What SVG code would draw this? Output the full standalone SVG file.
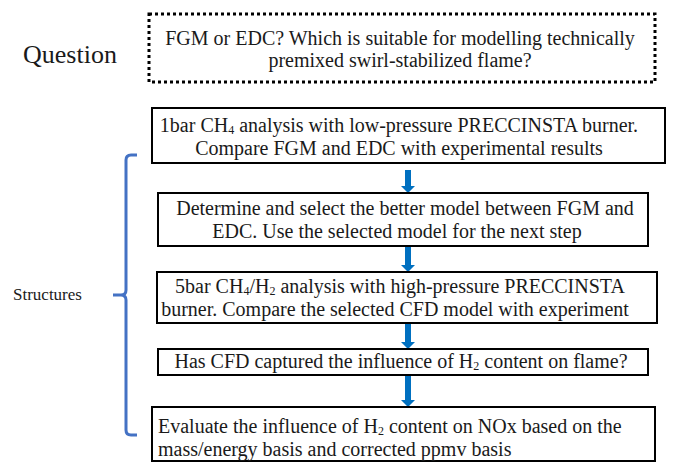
<svg xmlns="http://www.w3.org/2000/svg" width="674" height="463" viewBox="0 0 674 463">
<defs>
<style>
.t{font-family:"Liberation Serif","Times New Roman",serif;font-size:20px;fill:#1a1a1a}
.c{text-anchor:middle}
.s{font-size:12px}
.box{fill:#fff;stroke:#000;stroke-width:2}
.arr{fill:#0070C0}
</style>
</defs>
<rect width="674" height="463" fill="#fff"/>
<g id="question-label"><text class="t" x="23" y="63" style="font-size:26px">Question</text></g>
<g id="question">
<rect x="149" y="14" width="506" height="68" fill="#fff" stroke="#000" stroke-width="3" stroke-dasharray="3,3"/>
<text class="t c" x="400" y="45">FGM or EDC? Which is suitable for modelling technically</text>
<text class="t c" x="400" y="67">premixed swirl-stabilized flame?</text>
</g>
<g id="structures">
<path d="M137,155 H131 Q126,155 126,160 V290 Q126,295 121,295 H113 M121,295 Q126,295 126,300 V430 Q126,435 131,435 H137" fill="none" stroke="#4472C4" stroke-width="3"/>
<text class="t" x="13" y="300" style="font-size:17px">Structures</text>
</g>
<g id="connectors">
<path class="arr" d="M405,170 H411 V186 H415 L408,193 L401,186 H405 Z"/>
<path class="arr" d="M405,247 H411 V265 H415 L408,272 L401,265 H405 Z"/>
<path class="arr" d="M405,324 H411 V342 H415 L408,349 L401,342 H405 Z"/>
<path class="arr" d="M405,376 H411 V400 H415 L408,407 L401,400 H405 Z"/>
</g>
<g id="step1">
<rect class="box" x="152" y="108" width="513" height="55"/>
<text class="t c" x="399" y="132">1bar CH<tspan class="s" dy="2">4</tspan><tspan dy="-2"> analysis with low-pressure PRECCINSTA burner.</tspan></text>
<text class="t c" x="399" y="155">Compare FGM and EDC with experimental results</text>
</g>
<g id="step2">
<rect class="box" x="158" y="193" width="490" height="53"/>
<text class="t c" x="405" y="215">Determine and select the better model between FGM and</text>
<text class="t c" x="397" y="238">EDC. Use the selected model for the next step</text>
</g>
<g id="step3">
<rect class="box" x="157" y="272" width="500" height="51"/>
<text class="t c" x="400" y="293">5bar CH<tspan class="s" dy="2">4</tspan><tspan dy="-2">/H</tspan><tspan class="s" dy="2">2</tspan><tspan dy="-2"> analysis with high-pressure PRECCINSTA</tspan></text>
<text class="t c" x="395" y="316">burner. Compare the selected CFD model with experiment</text>
</g>
<g id="step4">
<rect class="box" x="158" y="349" width="490" height="26"/>
<text class="t c" x="401" y="368">Has CFD captured the influence of H<tspan class="s" dy="2">2</tspan><tspan dy="-2"> content on flame?</tspan></text>
</g>
<g id="step5">
<rect class="box" x="152" y="407" width="503" height="54"/>
<text class="t" x="158" y="433">Evaluate the influence of H<tspan class="s" dy="2">2</tspan><tspan dy="-2"> content on NOx based on the</tspan></text>
<text class="t" x="158" y="456">mass/energy basis and corrected ppmv basis</text>
</g>
</svg>
